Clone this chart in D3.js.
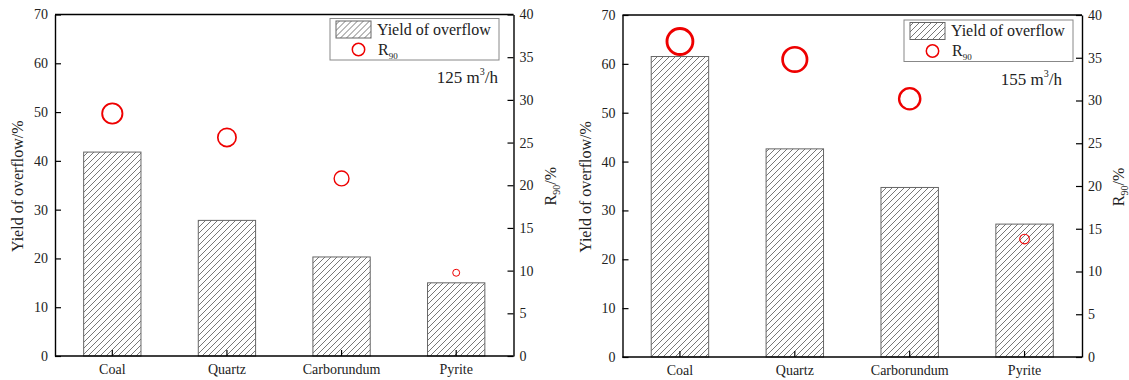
<!DOCTYPE html>
<html>
<head>
<meta charset="utf-8">
<script src="https://cdn.jsdelivr.net/npm/d3@7"></script>
<style>
  html, body { margin: 0; padding: 0; background: #fff; }
  svg { display: block; font-family: "Liberation Serif", "Times New Roman", serif; }
  svg text { font-family: "Liberation Serif", "Times New Roman", serif; }
</style>
</head>
<body>
<svg id="chart" width="1129" height="380"></svg>
<script>
// Materials on the category axis
const categories = ["Coal", "Quartz", "Carborundum", "Pyrite"];

// Overflow yield (%) at each feed flow rate
const yield125 = [41.8, 27.8, 20.3, 15.0];
const yield155 = [61.5, 42.6, 34.7, 27.2];

// R90 (%) at each feed flow rate
const r90_125 = [28.4, 25.6, 20.8, 9.75];
const r90_155 = [36.9, 34.8, 30.2, 13.8];

// Axis ticks
const leftTicks = [0, 10, 20, 30, 40, 50, 60, 70];
const rightTicks = [0, 5, 10, 15, 20, 25, 30, 35, 40];

// Panel annotations
const flowLabels = ["125", "155"];

const svg = d3.select("#chart");

// Diagonal hatch used for the bars and the legend swatch
const defs = svg.append("defs");
defs.append("pattern")
  .attr("id", "hatch")
  .attr("patternUnits", "userSpaceOnUse")
  .attr("width", 6).attr("height", 6)
  .call(p => {
    p.append("path")
      .attr("d", "M-1,7 L7,-1 M-4,4 L4,-4 M2,10 L10,2")
      .attr("stroke", "#555").attr("stroke-width", 0.8).attr("fill", "none");
  });

const panels = [
  { x0: 55, x1: 513.5, y0: 14.5, y1: 356, yields: yield125, r90: r90_125, flow: flowLabels[0],
    legend: { x: 330, y: 18.5, w: 169, h: 41.5 }, note: { x: 498, y: 83 }, strokeK: 0.17,
    leftTitleX: 23, rightTitleX: 556 },
  { x0: 622.5, x1: 1082, y0: 15, y1: 357, yields: yield155, r90: r90_155, flow: flowLabels[1],
    legend: { x: 904, y: 20, w: 169, h: 41.5 }, note: { x: 1062, y: 85 }, strokeK: 0.2,
    leftTitleX: 590.5, rightTitleX: 1124 }
];

panels.forEach(p => {
  const g = svg.append("g");

  const x = d3.scaleBand().domain(categories).range([p.x0, p.x1])
    .paddingInner(0.5).paddingOuter(0.25);
  const yL = d3.scaleLinear().domain([0, 70]).range([p.y1, p.y0]);
  const yR = d3.scaleLinear().domain([0, 40]).range([p.y1, p.y0]);
  // Marker radius grows with the R90 value
  const rScale = d3.scaleLinear().domain([0, 40]).range([0, 15.6]);

  // Bars
  g.selectAll("rect.bar").data(p.yields).join("rect")
    .attr("class", "bar")
    .attr("x", (d, i) => x(categories[i]))
    .attr("y", d => yL(d))
    .attr("width", x.bandwidth())
    .attr("height", d => yL(0) - yL(d))
    .attr("fill", "url(#hatch)")
    .attr("stroke", "#666").attr("stroke-width", 1);

  // Axes: ticks point into the plot area
  const axisStyle = sel => {
    sel.attr("font-family", null).attr("font-size", 14);
    sel.selectAll("text").attr("fill", "#222");
    sel.select(".domain").attr("stroke", "#000").attr("stroke-width", 1.4);
    sel.selectAll(".tick line").attr("stroke", "#000").attr("stroke-width", 1.2);
  };

  g.append("g").attr("transform", `translate(${p.x0},0)`)
    .call(d3.axisLeft(yL).tickValues(leftTicks).tickSizeInner(-6).tickSizeOuter(0).tickPadding(7))
    .call(axisStyle);

  g.append("g").attr("transform", `translate(${p.x1},0)`)
    .call(d3.axisRight(yR).tickValues(rightTicks).tickSizeInner(-6).tickSizeOuter(0).tickPadding(6))
    .call(axisStyle);

  const xAxis = g.append("g").attr("transform", `translate(0,${p.y1})`)
    .call(d3.axisBottom(x).tickSizeInner(-6).tickSizeOuter(0).tickPadding(8))
    .call(axisStyle);
  xAxis.select(".domain").attr("d", `M${p.x0},0H${p.x1}`);

  // Top frame
  g.append("line").attr("x1", p.x0).attr("x2", p.x1).attr("y1", p.y0).attr("y2", p.y0)
    .attr("stroke", "#000").attr("stroke-width", 1.4);

  // R90 markers
  g.selectAll("circle.r90").data(p.r90).join("circle")
    .attr("class", "r90")
    .attr("cx", (d, i) => x(categories[i]) + x.bandwidth() / 2)
    .attr("cy", d => yR(d))
    .attr("r", d => rScale(d) * (1 - p.strokeK / 2))
    .attr("fill", "none").attr("stroke", "#ee0000")
    .attr("stroke-width", d => Math.max(1, rScale(d) * p.strokeK));

  // Axis titles
  const midY = (p.y0 + p.y1) / 2;
  g.append("text")
    .attr("transform", `translate(${p.leftTitleX},${midY + 1}) rotate(-90)`)
    .attr("text-anchor", "middle").attr("font-size", 16).attr("fill", "#222")
    .text("Yield of overflow/%");

  const rt = g.append("text")
    .attr("transform", `translate(${p.rightTitleX},${midY + 1}) rotate(-90)`)
    .attr("text-anchor", "middle").attr("font-size", 16).attr("fill", "#222");
  rt.append("tspan").text("R");
  rt.append("tspan").attr("font-size", 10).attr("dy", 4).text("90");
  rt.append("tspan").attr("dy", -4).text("/%");

  // Legend
  const L = p.legend;
  const lg = g.append("g").attr("transform", `translate(${L.x},${L.y})`);
  lg.append("rect").attr("width", L.w).attr("height", L.h)
    .attr("fill", "#fff").attr("stroke", "#888").attr("stroke-width", 1);
  lg.append("rect").attr("x", 6).attr("y", 2.5).attr("width", 35).attr("height", 17)
    .attr("fill", "url(#hatch)").attr("stroke", "#666").attr("stroke-width", 1);
  lg.append("text").attr("x", 47).attr("y", 16).attr("font-size", 16).attr("fill", "#222")
    .text("Yield of overflow");
  lg.append("circle").attr("cx", 28.5).attr("cy", 31).attr("r", 6.2)
    .attr("fill", "none").attr("stroke", "#ee0000").attr("stroke-width", 1.5);
  const lt = lg.append("text").attr("x", 48).attr("y", 36).attr("font-size", 16).attr("fill", "#222");
  lt.append("tspan").text("R");
  lt.append("tspan").attr("font-size", 9).attr("dy", 4).text("90");

  // Flow-rate annotation
  const nt = g.append("text").attr("x", p.note.x).attr("y", p.note.y)
    .attr("text-anchor", "end").attr("font-size", 17).attr("fill", "#222");
  nt.append("tspan").text(p.flow + " m");
  nt.append("tspan").attr("font-size", 10).attr("dy", -8).text("3");
  nt.append("tspan").attr("dy", 8).text("/h");
});
</script>
</body>
</html>
